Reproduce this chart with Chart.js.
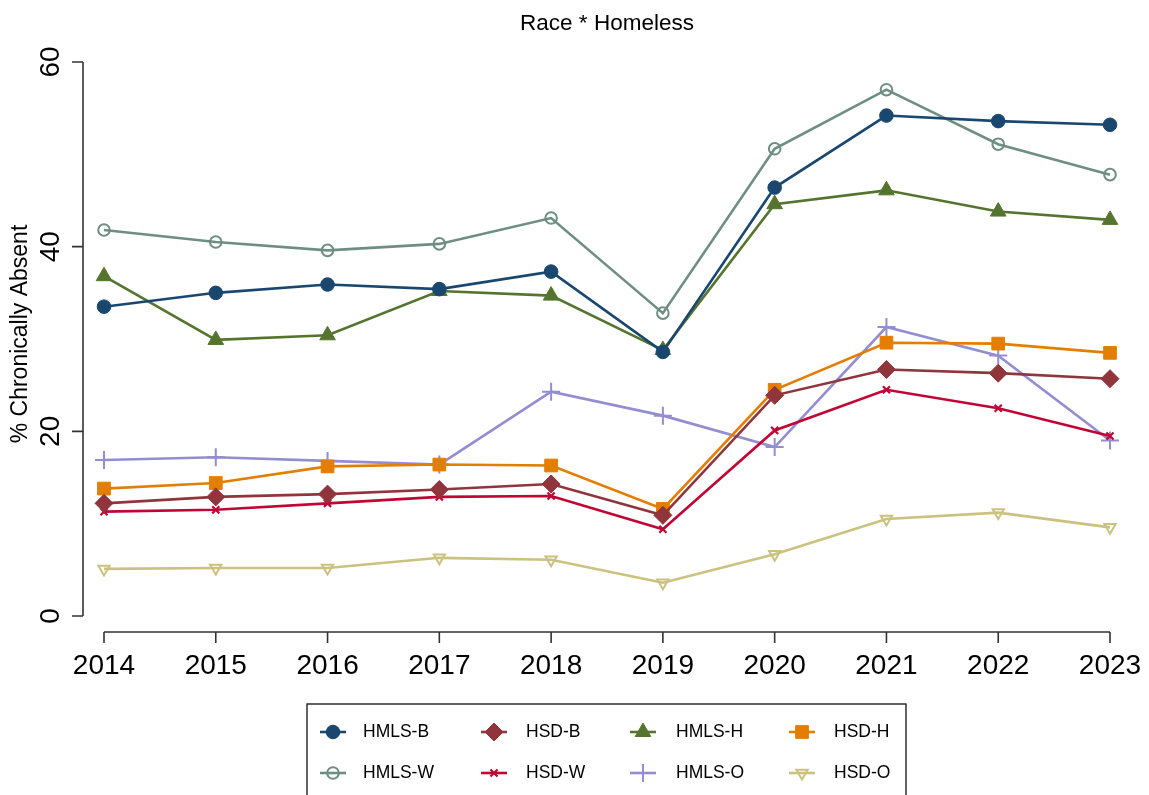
<!DOCTYPE html>
<html>
<head>
<meta charset="utf-8">
<script src="https://cdn.jsdelivr.net/npm/chart.js@4/dist/chart.umd.min.js"></script>
<style>
  html, body { margin: 0; padding: 0; background: #fff; }
  #wrap { width: 1149px; height: 795px; }
</style>
</head>
<body>
<div id="wrap"><canvas id="raceChart" width="1149" height="795"></canvas></div>
<script>
// school years on the x axis
const years = ['2014', '2015', '2016', '2017', '2018', '2019', '2020', '2021', '2022', '2023'];
const yTicks = [0, 20, 40, 60];

// % chronically absent, homeless (HMLS) vs housed (HSD), by race
const hmlsB = [33.5, 35.0, 35.9, 35.4, 37.3, 28.6, 46.4, 54.2, 53.6, 53.2];
const hsdB  = [12.2, 12.9, 13.2, 13.7, 14.3, 10.9, 23.9, 26.7, 26.3, 25.7];
const hmlsH = [36.8, 29.9, 30.4, 35.2, 34.7, 28.8, 44.6, 46.1, 43.8, 42.9];
const hsdH  = [13.8, 14.4, 16.2, 16.4, 16.3, 11.6, 24.5, 29.6, 29.5, 28.5];
const hmlsW = [41.8, 40.5, 39.6, 40.3, 43.1, 32.8, 50.6, 57.0, 51.1, 47.8];
const hsdW  = [11.3, 11.5, 12.2, 12.9, 13.0, 9.4, 20.1, 24.5, 22.5, 19.5];
const hmlsO = [16.9, 17.2, 16.8, 16.4, 24.3, 21.7, 18.3, 31.3, 28.2, 19.0];
const hsdO  = [5.1, 5.2, 5.2, 6.3, 6.1, 3.6, 6.7, 10.5, 11.2, 9.6];

const FONT = '"Liberation Sans", Arial, Helvetica, sans-serif';

function series(label, data, color, style) {
    return Object.assign({
        label: label,
        data: data,
        borderColor: color,
        backgroundColor: color,
        pointBackgroundColor: color,
        pointBorderColor: color,
        borderWidth: 2.6,
        pointBorderWidth: 1,
        pointRadius: 6.8,
        pointHoverRadius: 6.8,
        tension: 0,
        clip: false
    }, style);
}

const datasets = [
    series('HMLS-B', hmlsB, '#1a476f', { pointStyle: 'circle' }),
    series('HSD-B', hsdB, '#90353b', { pointStyle: 'rectRot', pointRadius: 9 }),
    series('HMLS-H', hmlsH, '#55752f', { pointStyle: 'triangle', pointRadius: 9 }),
    series('HSD-H', hsdH, '#e37e00', { pointStyle: 'rect', pointRadius: 9 }),
    series('HMLS-W', hmlsW, '#6e8e84', { pointStyle: 'circle', pointRadius: 5.8, pointBorderWidth: 2, pointBackgroundColor: 'rgba(255,255,255,0)' }),
    series('HSD-W', hsdW, '#c10534', { pointStyle: 'crossRot', pointRadius: 5, pointBorderWidth: 2.2 }),
    series('HMLS-O', hmlsO, '#938dd2', { pointStyle: 'cross', pointRadius: 9, pointBorderWidth: 2 }),
    series('HSD-O', hsdO, '#cac27e', { pointStyle: 'triangle', pointRotation: 180, pointRadius: 6.5, pointBorderWidth: 2, pointBackgroundColor: 'rgba(255,255,255,0)' })
];

// axes, title and boxed legend are drawn by hand in the Stata look
const stataFrame = {
    id: 'stataFrame',
    afterDraw(chart) {
        const ctx = chart.ctx;
        const x = chart.scales.x;
        const y = chart.scales.y;
        const axisColor = '#333333';

        ctx.save();
        ctx.strokeStyle = axisColor;
        ctx.fillStyle = '#000';
        ctx.lineWidth = 1.6;

        // y axis
        const yAxisX = 83;
        ctx.beginPath();
        ctx.moveTo(yAxisX, y.getPixelForValue(0));
        ctx.lineTo(yAxisX, y.getPixelForValue(60));
        yTicks.forEach(v => {
            const py = y.getPixelForValue(v);
            ctx.moveTo(yAxisX, py);
            ctx.lineTo(yAxisX - 11, py);
        });
        ctx.stroke();

        ctx.font = '28px ' + FONT;
        ctx.textAlign = 'center';
        ctx.textBaseline = 'middle';
        yTicks.forEach(v => {
            const py = y.getPixelForValue(v);
            ctx.save();
            ctx.translate(51, py);
            ctx.rotate(-Math.PI / 2);
            ctx.fillText(String(v), 0, 0);
            ctx.restore();
        });

        // y title
        ctx.save();
        ctx.font = '23px ' + FONT;
        ctx.translate(21, 334);
        ctx.rotate(-Math.PI / 2);
        ctx.fillText('% Chronically Absent', 0, 0);
        ctx.restore();

        // x axis
        const xAxisY = 632;
        ctx.beginPath();
        ctx.moveTo(x.getPixelForValue(0), xAxisY);
        ctx.lineTo(x.getPixelForValue(years.length - 1), xAxisY);
        years.forEach((yr, i) => {
            const px = x.getPixelForValue(i);
            ctx.moveTo(px, xAxisY);
            ctx.lineTo(px, xAxisY + 11);
        });
        ctx.stroke();

        ctx.font = '28px ' + FONT;
        years.forEach((yr, i) => {
            ctx.fillText(yr, x.getPixelForValue(i), 666);
        });

        // title
        ctx.font = '22.5px ' + FONT;
        ctx.fillText('Race * Homeless', (x.left + x.right) / 2, 24);

        // legend box
        ctx.lineWidth = 1.4;
        ctx.strokeStyle = '#222';
        ctx.strokeRect(307, 704, 599, 110);

        const colSample = [333, 494, 643, 802];
        const colText = [363, 526, 676, 834];
        const rowY = [732, 773];
        ctx.font = '17.5px ' + FONT;
        ctx.textAlign = 'left';
        chart.data.datasets.forEach((ds, i) => {
            const col = i % 4;
            const row = Math.floor(i / 4);
            const cx = colSample[col];
            const cy = rowY[row];
            ctx.strokeStyle = ds.borderColor;
            ctx.lineWidth = ds.borderWidth;
            ctx.beginPath();
            ctx.moveTo(cx - 13, cy);
            ctx.lineTo(cx + 13, cy);
            ctx.stroke();

            ctx.fillStyle = ds.pointBackgroundColor;
            ctx.strokeStyle = ds.pointBorderColor;
            ctx.lineWidth = ds.pointBorderWidth;
            Chart.helpers.drawPoint(ctx, {
                pointStyle: ds.pointStyle,
                radius: ds.pointRadius,
                rotation: ds.pointRotation || 0,
                borderWidth: ds.pointBorderWidth
            }, cx, cy);

            ctx.fillStyle = '#000';
            ctx.fillText(ds.label, colText[col], cy);
        });
        ctx.restore();
    }
};

new Chart(document.getElementById('raceChart'), {
    type: 'line',
    data: { labels: years, datasets: datasets },
    options: {
        responsive: false,
        animation: false,
        layout: { padding: { left: 104, right: 39, top: 62, bottom: 179 } },
        plugins: {
            legend: { display: false },
            title: { display: false },
            tooltip: { enabled: false }
        },
        scales: {
            x: { type: 'category', offset: false, display: false },
            y: { min: 0, max: 60, display: false }
        }
    },
    plugins: [stataFrame]
});
</script>
</body>
</html>
